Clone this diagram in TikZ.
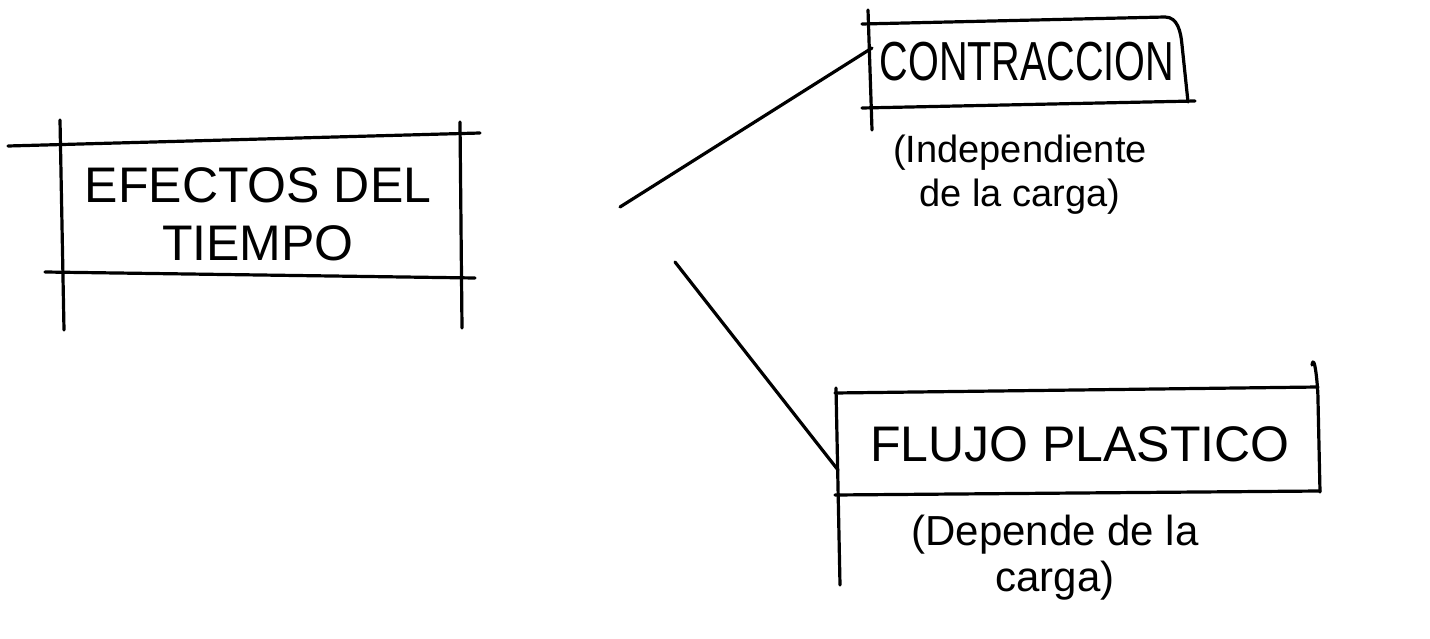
\documentclass[tikz,border=0pt]{standalone}
\usepackage{fontspec}
\setmainfont{Liberation Sans}
\begin{document}
\begin{tikzpicture}[x=1pt,y=-1pt,
  pen/.style={line width=3.2pt,line cap=round,line join=round,black},
  big/.style={font=\fontsize{50}{58}\selectfont,inner sep=0pt,align=center},
  mid/.style={font=\fontsize{44}{50}\selectfont,inner sep=0pt,align=center},
  small/.style={font=\fontsize{38}{44}\selectfont,inner sep=0pt,align=center}]
\useasboundingbox (0,0) rectangle (1430,639);
% left box
\draw[pen] (8,146) -- (480,133);
\draw[pen] (45,272) -- (475,278);
\draw[pen] (60,120) -- (64,330);
\draw[pen] (460,122) -- (462,328);
\node[big] (eff) at (258,214) {EFECTOS DEL\\TIEMPO};
\coordinate (e1) at (620,207);
\coordinate (e2) at (675,262);
% contraccion box
\draw[pen] (862,24) -- (1165,17) to[out=0,in=95] (1182,45) -- (1188,102);
\draw[pen] (862,108) -- (1195,101);
\draw[pen] (868,10) -- (872,130);
\node[mid] (con) at (1027,62) {\scalebox{0.9}[1.25]{CONTRACCION}};
\node[small] (conb) at (1020,175) {(Independiente\\de la carga)};
\coordinate (c1) at (872,48);
% flujo box
\draw[pen] (835,393) -- (1318,387);
\draw[pen] (835,495) -- (1320,491);
\draw[pen] (836,388) -- (840,585);
\draw[pen] (1312,365) to[out=80,in=90] (1318,400) -- (1320,492);
\node[big] (flu) at (1080,444) {FLUJO PLASTICO};
\node[small,font=\fontsize{42}{46}\selectfont] (flub) at (1055,558) {(Depende de la\\carga)};
\coordinate (f1) at (838,470);
% connectors
\draw[pen] (e1) -- (c1);
\draw[pen] (e2) -- (f1);
\end{tikzpicture}
\end{document}
